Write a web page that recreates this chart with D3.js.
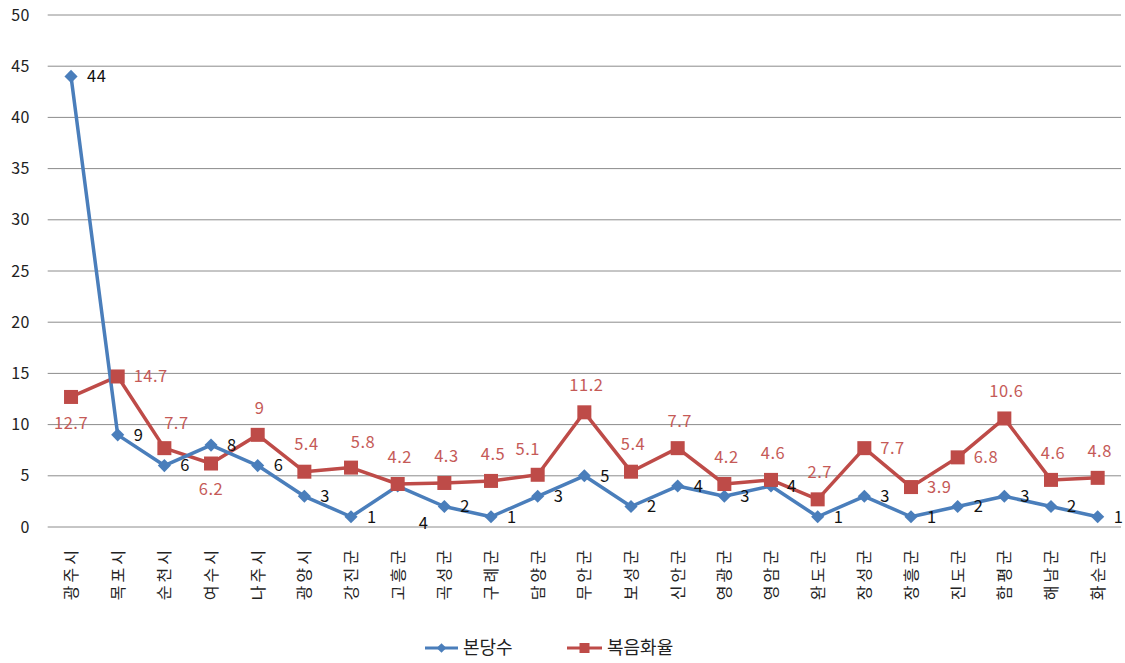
<!DOCTYPE html>
<html><head><meta charset="utf-8">
<script src="https://cdn.jsdelivr.net/npm/d3@7"></script>
<style>body{margin:0;background:#fff;}svg{display:block;}</style>
</head><body>
<svg id="c" width="1125" height="663"></svg>
<script>
const categories = ["광주시","목포시","순천시","여수시","나주시","광양시","강진군","고흥군","곡성군","구례군","담양군","무안군","보성군","신안군","영광군","영암군","완도군","장성군","장흥군","진도군","함평군","해남군","화순군"];
const churches = [44,9,6,8,6,3,1,4,2,1,3,5,2,4,3,4,1,3,1,2,3,2,1];
const evangel = [12.7,14.7,7.7,6.2,9,5.4,5.8,4.2,4.3,4.5,5.1,11.2,5.4,7.7,4.2,4.6,2.7,7.7,3.9,6.8,10.6,4.6,4.8];
const yTicks = [0,5,10,15,20,25,30,35,40,45,50];
const seriesNames = ["본당수","복음화율"];
// label placement keywords (Excel-like)
const churchLabelPos = ["right","right","right","right","right","right","right","below","right","right","right","right","right","right","right","right","right","right","right","right","right","right","right"];
const evangelLabelPos = ["below","right","aboveR","below","above","above","aboveR","above","above","above","aboveL","above","above","above","above","above","above","right","right","right","above","above","above"];

(function(){
const svg = d3.select("#c");
const pLeft = 47.7, pRight = 1121, pTop = 15, pBottom = 527;
const x = d3.scaleBand().domain(categories).range([pLeft, pRight]);
const y = d3.scaleLinear().domain([0,50]).range([pBottom, pTop]);
const cx = c => x(c) + x.bandwidth()/2;
const font = "'Noto Sans CJK KR', 'Noto Sans', sans-serif";
const blue = "#4a7ebb", red = "#be4b48";

svg.append("g").selectAll("line").data(yTicks).join("line")
  .attr("x1", pLeft).attr("x2", pRight)
  .attr("y1", d => y(d)).attr("y2", d => y(d))
  .attr("stroke", "#8c8c8c").attr("stroke-width", 1);

svg.append("g").selectAll("text").data(yTicks).join("text")
  .attr("x", 30).attr("y", d => y(d)).attr("dy", "0.35em")
  .attr("text-anchor", "end").attr("font-family", font).attr("font-size", 16)
  .attr("letter-spacing", 0.5).attr("fill", "#222").text(d => d);

svg.append("g").selectAll("text").data(categories).join("text")
  .attr("transform", d => `translate(${cx(d)+6},547) rotate(-90)`)
  .attr("text-anchor", "end").attr("font-family", font).attr("font-size", 16)
  .attr("letter-spacing", 3).attr("fill", "#222").text(d => d);

const line = d3.line().x((d,i) => cx(categories[i])).y(d => y(d));

svg.append("path").datum(evangel).attr("d", line).attr("fill","none")
  .attr("stroke", red).attr("stroke-width", 3.5).attr("stroke-linejoin","round");
svg.append("path").datum(churches).attr("d", line).attr("fill","none")
  .attr("stroke", blue).attr("stroke-width", 3.5).attr("stroke-linejoin","round");

const diamond = d3.symbol().type(d3.symbolDiamond2).size(110);
svg.append("g").selectAll("path").data(churches).join("path")
  .attr("transform", (d,i) => `translate(${cx(categories[i])},${y(d)})`)
  .attr("d", diamond).attr("fill", blue);
const sq = 14;
svg.append("g").selectAll("rect").data(evangel).join("rect")
  .attr("x", (d,i) => cx(categories[i]) - sq/2).attr("y", d => y(d) - sq/2)
  .attr("width", sq).attr("height", sq).attr("fill", red);

function place(pos, px, py){
  switch(pos){
    case "right": return {x: px+16, y: py, a: "start"};
    case "below": return {x: px, y: py+26, a: "middle"};
    case "above": return {x: px+2, y: py-27, a: "middle"};
    case "aboveR": return {x: px+12, y: py-25, a: "middle"};
    case "aboveL": return {x: px-10, y: py-26, a: "middle"};
  }
}
svg.append("g").selectAll("text").data(churches).join("text")
  .each(function(d,i){
    const px = cx(categories[i]), py = y(d);
    let p = place(churchLabelPos[i], px, py);
    if (churchLabelPos[i] === "below") p = {x: px+26, y: py+37, a: "middle"};
    d3.select(this).attr("x", p.x).attr("y", p.y).attr("text-anchor", p.a);
  })
  .attr("dy","0.35em").attr("font-family", font).attr("font-size", 16.5)
  .attr("letter-spacing", 0.5).attr("fill", "#111").text(d => d);
svg.append("g").selectAll("text").data(evangel).join("text")
  .each(function(d,i){
    const px = cx(categories[i]), py = y(d);
    const p = place(evangelLabelPos[i], px, py);
    d3.select(this).attr("x", p.x).attr("y", p.y).attr("text-anchor", p.a);
  })
  .attr("dy","0.35em").attr("font-family", font).attr("font-size", 16.5)
  .attr("letter-spacing", 0.5).attr("fill", "#c55a57").text(d => d);

const lg = svg.append("g");
lg.append("line").attr("x1",425).attr("x2",458).attr("y1",648).attr("y2",648).attr("stroke",blue).attr("stroke-width",3);
lg.append("path").attr("transform","translate(441.5,648)").attr("d", d3.symbol().type(d3.symbolDiamond2).size(60)).attr("fill",blue);
lg.append("text").attr("x",463).attr("y",648).attr("dy","0.35em").attr("font-family",font).attr("font-size",18).attr("fill","#222").text(seriesNames[0]);
lg.append("line").attr("x1",567).attr("x2",602).attr("y1",648).attr("y2",648).attr("stroke",red).attr("stroke-width",3);
lg.append("rect").attr("x",579.5).attr("y",643).attr("width",10).attr("height",10).attr("fill",red);
lg.append("text").attr("x",607).attr("y",648).attr("dy","0.35em").attr("font-family",font).attr("font-size",18).attr("fill","#222").text(seriesNames[1]);
})();
</script>
</body></html>
